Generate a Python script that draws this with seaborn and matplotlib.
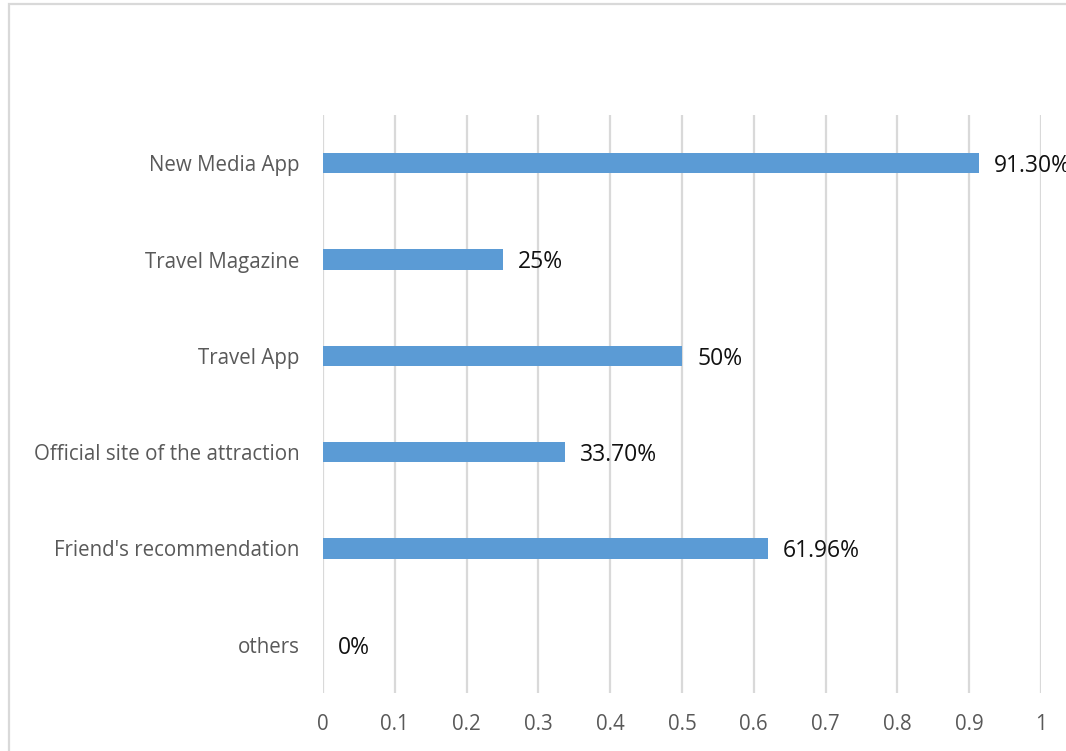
import matplotlib
matplotlib.use("Agg")
import matplotlib.pyplot as plt
from matplotlib.patches import Rectangle
import seaborn as sns
import pandas as pd

categories = ["New Media App", "Travel Magazine", "Travel App",
              "Official site of the attraction", "Friend's recommendation", "others"]
shares = [0.913, 0.25, 0.50, 0.337, 0.6196, 0.0]
share_labels = ["91.30%", "25%", "50%", "33.70%", "61.96%", "0%"]
x_ticks = [0, 0.1, 0.2, 0.3, 0.4, 0.5, 0.6, 0.7, 0.8, 0.9, 1]
x_tick_labels = ["0", "0.1", "0.2", "0.3", "0.4", "0.5", "0.6", "0.7", "0.8", "0.9", "1"]

sns.set_theme(style="white")
plt.rcParams["font.family"] = ["Open Sans", "DejaVu Sans"]

df = pd.DataFrame({"source": categories, "share": shares})

fig = plt.figure(figsize=(10.66, 7.51), dpi=100)
W, H = 1066, 751
ax = fig.add_axes([323 / W, 1 - 693 / H, (1041 - 323) / W, (693 - 115) / H])

sns.barplot(data=df, x="share", y="source", orient="h", color="#5b9bd5",
            width=0.21, saturation=1, linewidth=0, ax=ax)

ax.set_xlim(0, 1)
ax.set_ylim(5.5, -0.5)
ax.set_xticks(x_ticks)
ax.set_xticklabels(x_tick_labels)
ax.set_xlabel("")
ax.set_ylabel("")
ax.grid(axis="x", color="#d9d9d9", linewidth=1.6)
ax.grid(axis="y", visible=False)
ax.set_axisbelow(True)
for s in ax.spines.values():
    s.set_visible(False)
ax.tick_params(axis="both", length=0, labelsize=14.8, labelcolor="#595959")
ax.tick_params(axis="y", pad=17)
ax.tick_params(axis="x", pad=15)

texts = ax.bar_label(ax.containers[0], labels=share_labels, padding=11,
                     fontsize=16.5, color="#111111")
for t in texts:
    t.xyann = (11, -2)

# chart frame
fig.patches.append(Rectangle((9 / W, -0.05), 1.1, 1 - 4 / H + 0.05,
                             transform=fig.transFigure, fill=False,
                             edgecolor="#d9d9d9", linewidth=1.6, zorder=0))

fig.savefig("out.png", dpi=100)
